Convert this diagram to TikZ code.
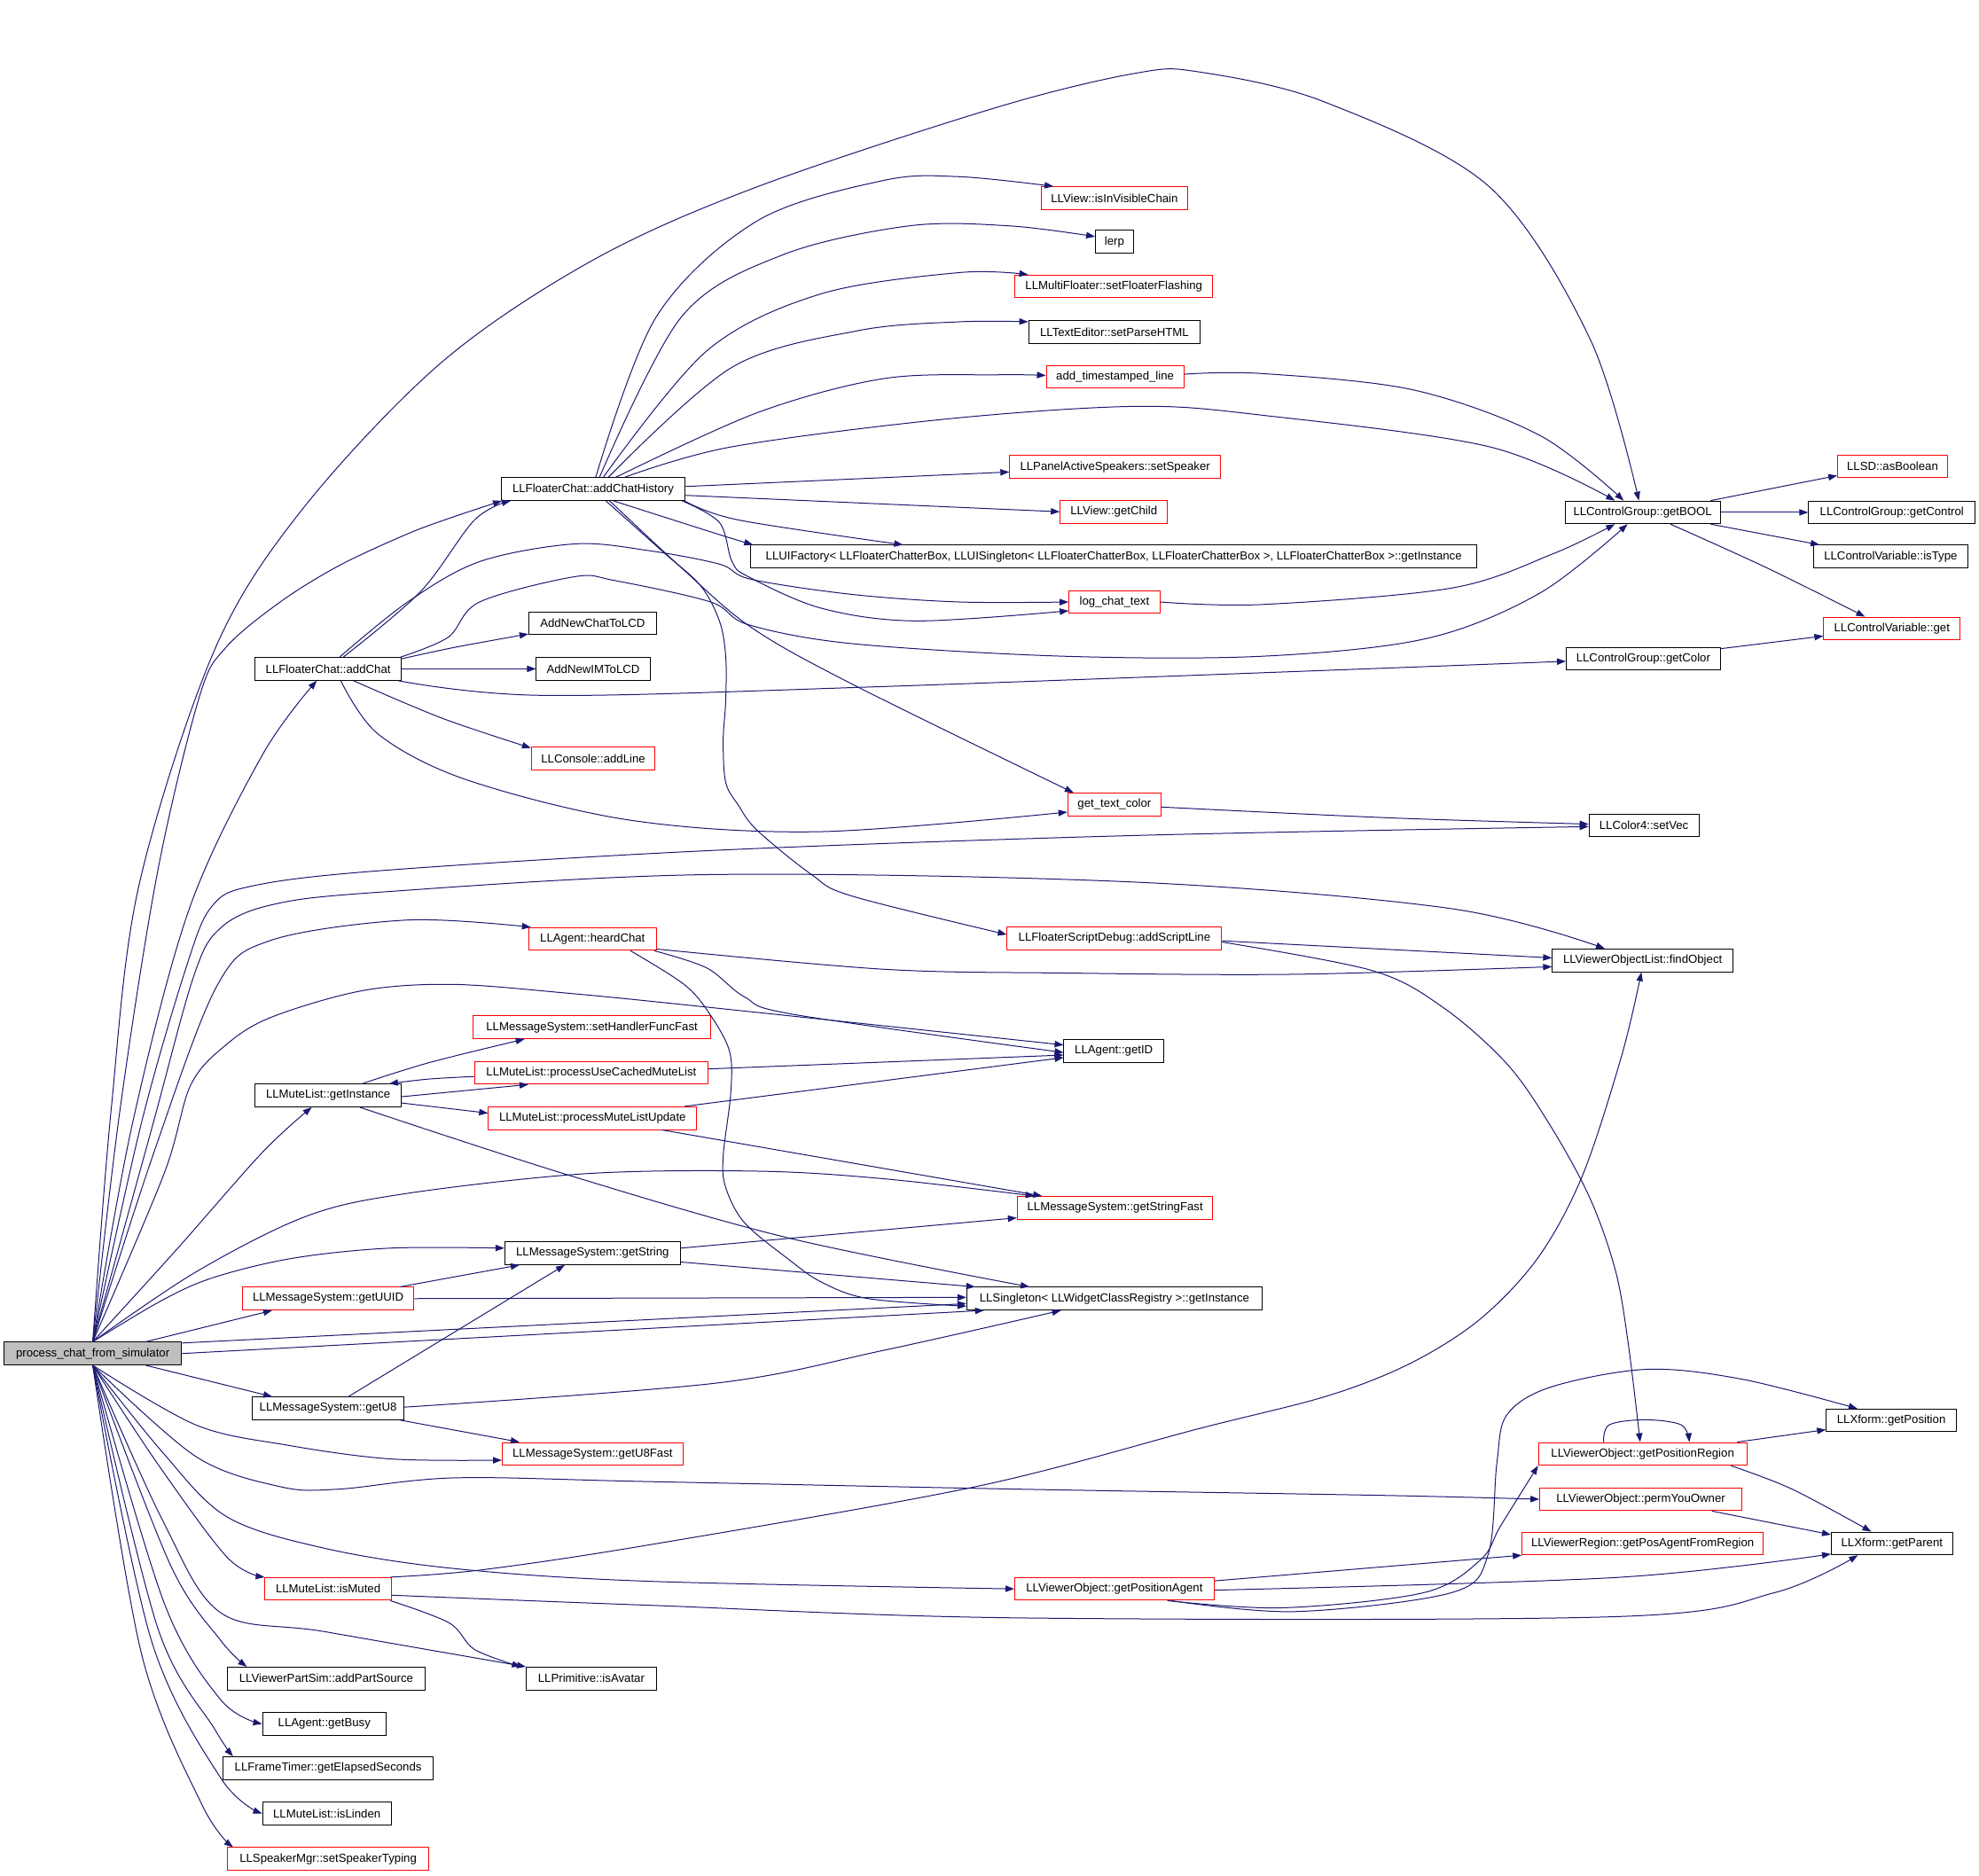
\documentclass[tikz,border=0pt]{standalone}
\usepackage{fontspec}
\setmainfont{Liberation Sans}
\usetikzlibrary{arrows.meta,calc}
\definecolor{edgec}{RGB}{25,25,112}
\definecolor{pgray}{RGB}{191,191,191}
\tikzset{
  bx/.style={rectangle, line width=0.5pt, fill=white, inner xsep=1pt, inner ysep=0pt,
    minimum height=12.8pt, font=\fontsize{6.6}{8}\selectfont, text=black},
  nb/.style={bx, draw=black},
  nr/.style={bx, draw=red},
  bw/.style={minimum width=#1*0.71175pt},
  e/.style={draw=edgec, line width=0.5pt, -{Triangle[length=5pt,width=3.6pt]}}
}
\newcommand\edg[1]{\draw[e] plot[smooth,tension=0.55] coordinates {#1};}
\begin{document}
\begin{tikzpicture}[x=0.71175pt,y=-0.71175pt]
\useasboundingbox (0,0) rectangle (1568,1486);
\node[nb,bw=141,fill=pgray] (P) at (73.5,1072.5) {process\_chat\_from\_simulator};
\node[nb,bw=146] (hist) at (470,387.5) {LLFloaterChat::addChatHistory};
\node[nb,bw=116] (chat) at (260,530) {LLFloaterChat::addChat};
\node[nr,bw=116] (vis) at (883,157) {LLView::isInVisibleChain};
\node[nb,bw=30] (lerp) at (883,191.5) {lerp};
\node[nr,bw=157] (flash) at (882.5,227) {LLMultiFloater::setFloaterFlashing};
\node[nb,bw=136] (parse) at (883,263) {LLTextEditor::setParseHTML};
\node[nr,bw=109] (stamp) at (883.5,298.5) {add\_timestamped\_line};
\node[nr,bw=167] (speaker) at (883.5,370) {LLPanelActiveSpeakers::setSpeaker};
\node[nr,bw=85] (child) at (882.5,405.5) {LLView::getChild};
\node[nb,bw=575] (factory) at (882.5,441) {LLUIFactory< LLFloaterChatterBox, LLUISingleton< LLFloaterChatterBox, LLFloaterChatterBox >, LLFloaterChatterBox >::getInstance};
\node[nr,bw=72] (logchat) at (883,477) {log\_chat\_text};
\node[nb,bw=101] (lcd) at (469.5,494) {AddNewChatToLCD};
\node[nb,bw=90] (im) at (470,530) {AddNewIMToLCD};
\node[nr,bw=98] (addline) at (470,601) {LLConsole::addLine};
\node[nr,bw=74] (textcolor) at (883,637.5) {get\_text\_color};
\node[nb,bw=123] (getbool) at (1301.5,406) {LLControlGroup::getBOOL};
\node[nb,bw=122] (getcolor) at (1302,522) {LLControlGroup::getColor};
\node[nb,bw=87] (setvec) at (1302.5,654) {LLColor4::setVec};
\node[nr,bw=87] (asbool) at (1499.5,369.5) {LLSD::asBoolean};
\node[nb,bw=132] (getcontrol) at (1499,406) {LLControlGroup::getControl};
\node[nb,bw=122] (istype) at (1498,441) {LLControlVariable::isType};
\node[nr,bw=108] (cvget) at (1499,498) {LLControlVariable::get};
\node[nr,bw=170] (scriptline) at (883,743.5) {LLFloaterScriptDebug::addScriptLine};
\node[nr,bw=101] (heard) at (469.5,744) {LLAgent::heardChat};
\node[nb,bw=143] (findobj) at (1301.5,761) {LLViewerObjectList::findObject};
\node[nr,bw=188] (sethandler) at (469,814) {LLMessageSystem::setHandlerFuncFast};
\node[nr,bw=185] (cached) at (468.5,850) {LLMuteList::processUseCachedMuteList};
\node[nb,bw=116] (mlinst) at (260,868) {LLMuteList::getInstance};
\node[nr,bw=165] (mlupdate) at (469.5,886) {LLMuteList::processMuteListUpdate};
\node[nb,bw=79] (getid) at (882.5,833) {LLAgent::getID};
\node[nr,bw=155] (strfast) at (883.5,957) {LLMessageSystem::getStringFast};
\node[nb,bw=139] (getstr) at (469.5,993) {LLMessageSystem::getString};
\node[nr,bw=136] (uuid) at (260,1029) {LLMessageSystem::getUUID};
\node[nb,bw=234] (single) at (883,1029) {LLSingleton< LLWidgetClassRegistry >::getInstance};
\node[nb,bw=120] (u8) at (260,1116) {LLMessageSystem::getU8};
\node[nr,bw=143] (u8fast) at (469.5,1152) {LLMessageSystem::getU8Fast};
\node[nr,bw=165] (posreg) at (1301.5,1152) {LLViewerObject::getPositionRegion};
\node[nb,bw=103] (getpos) at (1498.5,1125.5) {LLXform::getPosition};
\node[nr,bw=160] (permyou) at (1300,1188) {LLViewerObject::permYouOwner};
\node[nb,bw=96] (getparent) at (1499,1223) {LLXform::getParent};
\node[nr,bw=191] (posagentreg) at (1301.5,1223) {LLViewerRegion::getPosAgentFromRegion};
\node[nr,bw=158] (posagent) at (883,1259) {LLViewerObject::getPositionAgent};
\node[nr,bw=100] (ismuted) at (260,1259) {LLMuteList::isMuted};
\node[nb,bw=157] (partsrc) at (258.5,1330) {LLViewerPartSim::addPartSource};
\node[nb,bw=103] (isavatar) at (468.5,1330) {LLPrimitive::isAvatar};
\node[nb,bw=98] (busy) at (257,1366) {LLAgent::getBusy};
\node[nb,bw=166] (elapsed) at (260,1401) {LLFrameTimer::getElapsedSeconds};
\node[nb,bw=102] (islinden) at (259,1437) {LLMuteList::isLinden};
\node[nr,bw=160] (typing) at (260,1473) {LLSpeakerMgr::setSpeakerTyping};

% edges from process_chat_from_simulator
\edg{(P.north) (88,880) (110,702) (170,515) (240,403) (350,287) (470,206) (600,148) (790,85) (900,58) (950,57) (1050,81) (1180,148) (1260,269) ($(getbool.north)+(-3,0)$)}
\edg{(P.north) (95,880) (125,690) (158,552) (179,513) (222,477) (269,448) (323,423) (358,410) ($(hist.south west)+(1,0)$)}
\edg{(P.north) (105,890) (150,720) (208,598) ($(chat.south)+(-9,0)$)}
\edg{(P.north) (112,890) (148,765) (168,718) (200,702) (300,690) (562,674) (900,662) ($(setvec.west)+(0,1)$)}
\edg{(P.north) (120,895) (153,775) (174,736) (215,717) (300,707) (562,693) (900,699) (1150,720) ($(findobj.north)+(-30,0)$)}
\edg{(P.north) (122,913) (172,781) (215,745) (323,729) ($(heard.north west)+(2,0)$)}
\edg{(P.north) (130,930) (151,860) (179,828) (215,806) (287,785) (358,780) (450,787) (560,798) ($(getid.west)+(0,-5)$)}
\edg{(P.north) (140,990) (208,913) ($(mlinst.south)+(-13,0)$)}
\edg{(P.north) (155,1008) (242,964) (320,946) (464,930) (600,928) (700,934) ($(strfast.north west)+(14,0)$)}
\edg{(P.north) (129,1030) (170,1012) (232,997) (309,989) ($(getstr.west)+(0,-4)$)}
\edg{($(P.north)+(42,0)$) ($(uuid.south west)+(24,0)$)}
\edg{($(P.north east)+(0,1)$) ($(single.west)+(0,4)$)}
\edg{(P.east) ($(single.south west)+(14,0)$)}
\edg{($(P.south)+(42,0)$) ($(u8.north west)+(16,0)$)}
\edg{(P.south) (155,1129) (227,1145) (309,1156) ($(u8fast.west)+(0,5)$)}
\edg{(P.south) (155,1154) (222,1178) (268,1180) (361,1171) (515,1174) (808,1180) (1100,1185) (permyou.west)}
\edg{(P.south) (129,1151) (180,1202) (258,1227) (361,1243) (515,1253) (posagent.west)}
\edg{(P.south) (125,1160) (180,1234) (ismuted.north west)}
\edg{(P.south) (129,1205) (175,1278) (258,1293) (isavatar.north west)}
\edg{(P.south) (135,1240) (175,1300) ($(partsrc.north west)+(16,0)$)}
\edg{(P.south) (130,1270) (175,1347) (busy.west)}
\edg{(P.south) (125,1290) (170,1370) ($(elapsed.north west)+(8,0)$)}
\edg{(P.south) (120,1300) (175,1409) (islinden.west)}
\edg{(P.south) (112,1310) (160,1430) ($(typing.north west)+(5,0)$)}

% edges from addChatHistory
\edg{($(hist.north)+(2,0)$) (520,251) (600,175) (700,143) (760,140) ($(vis.north west)+(10,0)$)}
\edg{($(hist.north)+(5,0)$) (540,251) (620,202) (720,179) (800,179) ($(lerp.west)+(0,-4)$)}
\edg{($(hist.north)+(8,0)$) (560,278) (650,233) (760,216) ($(flash.north west)+(11,0)$)}
\edg{($(hist.north)+(12,0)$) (580,291) (680,262) (760,255) ($(parse.west)+(0,-8)$)}
\edg{($(hist.north)+(18,0)$) (600,327) (700,300) (790,297) ($(stamp.west)+(0,-1)$)}
\edg{($(hist.north)+(25,0)$) (580,354) (750,332) (900,322) (1000,329) (1180,354) ($(getbool.north)+(-22,0)$)}
\edg{($(hist.east)+(0,-2)$) ($(speaker.west)+(0,4)$)}
\edg{($(hist.east)+(0,5)$) (child.west)}
\edg{($(hist.south)+(16,0)$) (568,423) ($(factory.north west)+(2,0)$)}
\edg{($(hist.south east)+(-1,0)$) (585,412) ($(factory.north)+(-167,0)$)}
\edg{($(hist.south east)+(-3,0)$) (570,414) (580,445) (593,457) (651,482) (726,492) ($(logchat.west)+(0,7)$)}
\edg{($(hist.south)+(13,0)$) (540,450) (595,497) (675,542) ($(textcolor.north west)+(5,0)$)}
\edg{($(hist.south)+(10,0)$) (525,437) (555,464) (570,492) (575,520) (575,555) (573,587) (575,620) (585,638) (600,658) (643,693) (675,710) ($(scriptline.west)+(0,-3)$)}

% edges from addChat
\edg{($(chat.north)+(12,0)$) (333,469) (376,412) ($(hist.south west)+(8,0)$)}
\edg{($(chat.north)+(9,0)$) (323,477) (380,445) (455,431) (512,436) (570,447) (595,459) (675,471) (760,477) (logchat.west)}
\edg{($(chat.north east)+(-1,0)$) (355,505) (380,477) (455,457) (487,460) (563,477) (593,495) (675,510) (843,520) (1000,520) (1130,506) (1220,470) ($(getbool.south)+(-12,0)$)}
\edg{($(chat.east)+(0,-8)$) (360,513) ($(lcd.south west)+(0,-1)$)}
\edg{(chat.east) (im.west)}
\edg{($(chat.south east)+(-3,0)$) (430,551) (700,544) ($(getcolor.west)+(0,2)$)}
\edg{($(chat.south)+(20,0)$) (350,569) ($(addline.north west)+(0,1)$)}
\edg{($(chat.south)+(10,0)$) (300,582) (370,618) (500,650) (650,659) ($(textcolor.west)+(0,6)$)}

% other edges
\edg{($(stamp.east)+(0,-2)$) (1000,296) (1120,309) (1220,345) ($(getbool.north)+(-15,0)$)}
\edg{(logchat.east) (1000,479) (1150,466) (1230,439) ($(getbool.south)+(-22,0)$)}
\edg{($(getbool.north east)+(-8,0)$) ($(asbool.south west)+(0,-2)$)}
\edg{(getbool.east) (getcontrol.west)}
\edg{($(getbool.south east)+(-8,0)$) ($(istype.north west)+(5,0)$)}
\edg{($(getbool.south)+(22,0)$) (1400,450) ($(cvget.north west)+(33,0)$)}
\edg{($(getcolor.east)+(0,-8)$) ($(cvget.west)+(0,6)$)}
\edg{($(textcolor.east)+(0,2)$) (1100,648) ($(setvec.west)+(0,-1)$)}
\edg{($(scriptline.east)+(0,2)$) ($(findobj.west)+(0,-2)$)}
\edg{($(scriptline.east)+(0,3)$) (1087,769) (1143,798) (1194,843) (1229,893) (1260,950) (1280,1007) (1290,1064) ($(posreg.north)+(-2,0)$)}
\edg{($(heard.east)+(0,8)$) (700,768) (843,771) (1026,772) ($(findobj.west)+(0,5)$)}
\edg{($(heard.south east)+(-2,0)$) (560,767) (590,790) (630,804) ($(getid.west)+(0,1)$)}
\edg{($(heard.south)+(30,0)$) (542,780) (562,803) (578,833) (579,866) (573,916) (575,941) (590,969) (625,998) (651,1016) (688,1029) ($(single.west)+(0,6)$)}
\edg{($(cached.east)+(0,-3)$) ($(getid.west)+(0,3)$)}
\edg{($(cached.west)+(0,3)$) (340,855) ($(mlinst.north east)+(-10,0)$)}
\edg{($(mlinst.north)+(27,0)$) (340,842) ($(sethandler.south west)+(41,0)$)}
\edg{($(mlinst.east)+(0,1)$) ($(cached.south west)+(43,0)$)}
\edg{($(mlinst.east)+(0,6)$) ($(mlupdate.west)+(0,-4)$)}
\edg{($(mlinst.south)+(25,0)$) (450,931) (625,981) ($(single.north west)+(50,0)$)}
\edg{($(mlupdate.north east)+(-10,0)$) ($(getid.west)+(0,5)$)}
\edg{($(mlupdate.south)+(55,0)$) ($(strfast.north west)+(20,0)$)}
\edg{($(getstr.east)+(0,-4)$) ($(strfast.west)+(0,8)$)}
\edg{($(getstr.east)+(0,7)$) ($(single.north west)+(7,0)$)}
\edg{($(uuid.north)+(57,0)$) ($(getstr.south west)+(12,0)$)}
\edg{(uuid.east) ($(single.west)+(0,-1)$)}
\edg{($(u8.north)+(16,0)$) ($(getstr.south)+(-22,0)$)}
\edg{($(u8.east)+(0,-1)$) (567,1096) (700,1070) ($(single.south west)+(75,0)$)}
\edg{($(u8.south east)+(-3,0)$) ($(u8fast.north west)+(14,0)$)}
\edg{($(posreg.north)+(-31,0)$) (1275,1129) (1303,1125) (1332,1129) ($(posreg.north)+(37,0)$)}
\edg{($(posreg.north east)+(-8,0)$) ($(getpos.south west)+(0,-2)$)}
\edg{($(posreg.south east)+(-13,0)$) (1420,1180) ($(getparent.north west)+(32,0)$)}
\edg{($(permyou.south east)+(-24,0)$) ($(getparent.west)+(0,-7)$)}
\edg{($(posagent.north east)+(0,3)$) (posagentreg.south west)}
\edg{($(posagent.east)+(0,1)$) (1280,1250) ($(getparent.south west)+(0,-1)$)}
\edg{($(ismuted.east)+(0,5)$) (515,1272) (808,1282) (1280,1281) (1406,1262) ($(getparent.south)+(-27,0)$)}
\edg{($(ismuted.north east)+(-1,0)$) (381,1244) (515,1224) (773,1178) (950,1132) (1052,1106) (1118,1080) (1173,1045) (1219,996) (1254,931) (1285,836) ($(findobj.south)+(-1,0)$)}
\edg{($(ismuted.south east)+(-1,0)$) (356,1286) (376,1307) ($(isavatar.north west)+(-4,0)$)}
\edg{($(posagent.south)+(42,0)$) (1016,1274) (1128,1262) (1173,1236) (1189,1209) (posreg.south west)}
\edg{($(posagent.south)+(45,0)$) (1026,1277) (1150,1262) (1179,1232) (1186,1159) (1194,1121) (1229,1099) (1305,1085) (1381,1093) ($(getpos.north west)+(25,0)$)}
\end{tikzpicture}
\end{document}
